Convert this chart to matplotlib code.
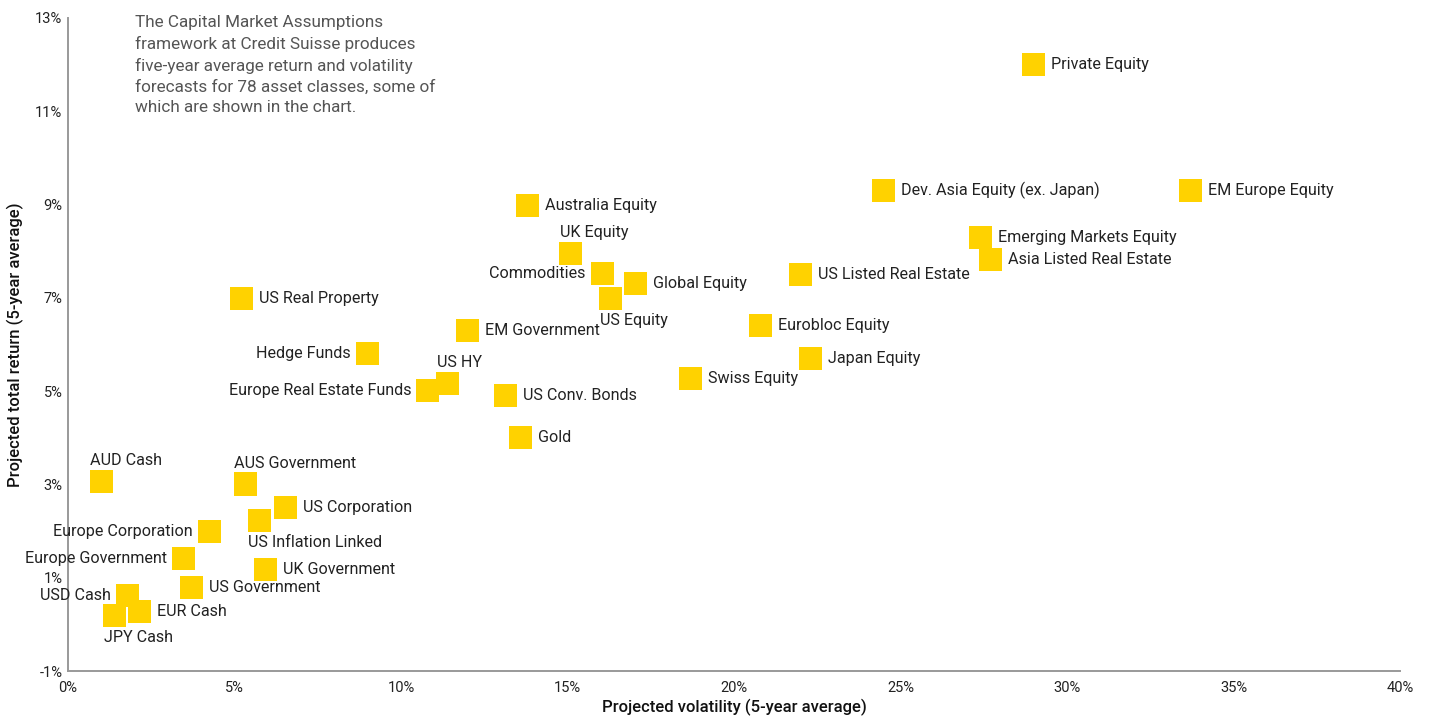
import matplotlib.pyplot as plt
from matplotlib.ticker import FuncFormatter

# asset classes
assets = [
    "Private Equity", "EM Europe Equity", "Dev. Asia Equity (ex. Japan)",
    "Emerging Markets Equity", "Asia Listed Real Estate", "US Listed Real Estate",
    "Eurobloc Equity", "Japan Equity", "Swiss Equity", "Australia Equity",
    "UK Equity", "Commodities", "Global Equity", "US Equity", "EM Government",
    "US HY", "Europe Real Estate Funds", "US Conv. Bonds", "Gold", "Hedge Funds",
    "US Real Property", "AUD Cash", "AUS Government", "US Corporation",
    "US Inflation Linked", "Europe Corporation", "Europe Government",
    "UK Government", "US Government", "USD Cash", "EUR Cash", "JPY Cash",
]
volatility = [
    29.0, 33.7, 24.5, 27.4, 27.7, 22.0, 20.8, 22.3, 18.7, 13.8,
    15.1, 16.05, 17.05, 16.3, 12.0, 11.4, 10.8, 13.15, 13.6, 9.0,
    5.2, 1.0, 5.33, 6.53, 5.75, 4.25, 3.47, 5.93, 3.71, 1.79, 2.15, 1.4,
]
total_return = [
    12.0, 9.3, 9.3, 8.3, 7.83, 7.5, 6.4, 5.69, 5.28, 8.97,
    7.95, 7.52, 7.3, 6.98, 6.3, 5.17, 5.02, 4.91, 4.01, 5.8,
    6.99, 3.07, 3.01, 2.5, 2.22, 2.0, 1.41, 1.17, 0.79, 0.61, 0.27, 0.19,
]

x_ticks = [0, 5, 10, 15, 20, 25, 30, 35, 40]
y_ticks = [-1, 1, 3, 5, 7, 9, 11, 13]

note = ("The Capital Market Assumptions\n"
        "framework at Credit Suisse produces\n"
        "five-year average return and volatility\n"
        "forecasts for 78 asset classes, some of\n"
        "which are shown in the chart.")

# where each label sits relative to its square
label_side = {
    "UK Equity": "top", "US HY": "top", "AUD Cash": "top", "AUS Government": "top",
    "US Equity": "bottom", "US Inflation Linked": "bottom", "JPY Cash": "bottom",
    "Commodities": "left", "Hedge Funds": "left", "Europe Real Estate Funds": "left",
    "Europe Corporation": "left", "Europe Government": "left", "USD Cash": "left",
}
side_style = {
    "right": dict(xytext=(12.5, 0), ha="left", va="center"),
    "left": dict(xytext=(-12.0, 0), ha="right", va="center"),
    "top": dict(xytext=(-8.0, 9.5), ha="left", va="bottom"),
    "bottom": dict(xytext=(-8.0, -10.5), ha="left", va="top"),
}

plt.rcParams["font.family"] = ["Roboto", "DejaVu Sans"]

fig = plt.figure(figsize=(14.33, 7.2), dpi=100)
ax = fig.add_axes([0.0475, 0.068, 0.9295, 0.907])

ax.scatter(volatility, total_return, marker="s", s=275, color="#FFD200",
           edgecolors="none", zorder=3)

for name, vx, ry in zip(assets, volatility, total_return):
    st = side_style[label_side.get(name, "right")]
    ax.annotate(name, (vx, ry), textcoords="offset points", fontsize=11.6,
                color="#222222", **st)

ax.set_xlim(0, 40)
ax.set_ylim(-1, 13)
ax.set_xticks(x_ticks)
ax.set_yticks(y_ticks)
ax.xaxis.set_major_formatter(FuncFormatter(lambda v, p: f"{v:.0f}%"))
ax.yaxis.set_major_formatter(FuncFormatter(lambda v, p: f"{v:.0f}%"))
ax.tick_params(axis="both", length=0, labelsize=10.5, colors="#222222")
ax.tick_params(axis="x", pad=7)
ax.tick_params(axis="y", pad=4)

for s in ["top", "right"]:
    ax.spines[s].set_visible(False)
for s in ["left", "bottom"]:
    ax.spines[s].set_color("#999999")
    ax.spines[s].set_linewidth(1.4)

ax.set_xlabel("Projected volatility (5-year average)", fontsize=12,
              fontweight="medium", color="#111111", labelpad=3)
ax.set_ylabel("Projected total return (5-year average)", fontsize=12,
              fontweight="medium", color="#111111", labelpad=8)

fig.text(135 / 1433, 1 - 15 / 720, note, ha="left", va="top", fontsize=12.3,
         color="#555555", linespacing=1.45)

fig.savefig("out.png", dpi=100)
